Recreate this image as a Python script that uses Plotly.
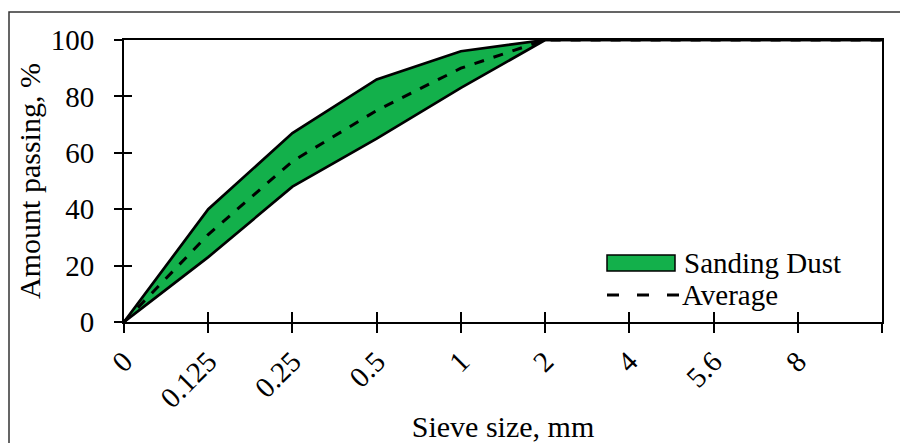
import plotly.graph_objects as go

sieve_labels = ["0", "0.125", "0.25", "0.5", "1", "2", "4", "5.6", "8", ""]
upper_passing = [0, 40, 67, 86, 96, 100, 100, 100, 100, 100]
lower_passing = [0, 23, 48, 65, 83, 100, 100, 100, 100, 100]
average_passing = [0, 31, 57, 75, 90, 100, 100, 100, 100, 100]
band_name = "Sanding Dust"
avg_name = "Average"

x_pos = list(range(len(sieve_labels)))
FONT = "Liberation Serif"
FS = 29
TFS = 30
GREEN = "#13B04B"
OFF = 8  # page body margin in the browser
W, H = 908 - OFF, 443 - OFF
L, R, T, B = 124 - OFF, 26, 40 - OFF, 121
PW, PH = W - L - R, H - T - B


def px(x):
    return (x - OFF - L) / PW


def py(y):
    return (OFF + H - B - y) / PH


fig = go.Figure()
fig.add_trace(go.Scatter(x=x_pos, y=lower_passing, mode="lines",
                         line=dict(color="black", width=2.7),
                         showlegend=False, hoverinfo="skip"))
fig.add_trace(go.Scatter(x=x_pos, y=upper_passing, mode="lines", fill="tonexty",
                         fillcolor=GREEN, line=dict(color="black", width=2.7),
                         name=band_name, showlegend=False))
fig.add_trace(go.Scatter(x=x_pos, y=average_passing, mode="lines",
                         line=dict(color="black", width=3, dash="10px,10px"),
                         name=avg_name, showlegend=False))
# invisible trace on overlay axes (for crossing ticks)
fig.add_trace(go.Scatter(x=[0], y=[0], xaxis="x2", yaxis="y2", mode="markers",
                         marker=dict(opacity=0), showlegend=False, hoverinfo="skip"))

shapes = [
    # outer frame
    dict(type="rect", xref="paper", yref="paper",
         x0=px(9), x1=px(920), y0=py(455), y1=py(12),
         line=dict(color="#333333", width=1.5), layer="below"),
    # legend: band swatch
    dict(type="rect", xref="paper", yref="paper",
         x0=px(607), x1=px(675), y0=py(271), y1=py(255),
         fillcolor=GREEN, line=dict(color="black", width=1.5)),
    # legend: dashed line
    dict(type="line", xref="paper", yref="paper",
         x0=px(607), x1=px(680), y0=py(295), y1=py(295),
         line=dict(color="black", width=3, dash="12px,18px")),
]
annotations = [
    dict(text=band_name, xref="paper", yref="paper", x=px(682), y=py(263),
         xanchor="left", yanchor="middle", showarrow=False,
         font=dict(family=FONT, size=FS, color="black")),
    dict(text=avg_name, xref="paper", yref="paper", x=px(680), y=py(295),
         xanchor="left", yanchor="middle", showarrow=False,
         font=dict(family=FONT, size=FS, color="black")),
]

fig.update_layout(
    width=W, height=H,
    margin=dict(l=L, r=R, t=T, b=B),
    paper_bgcolor="white", plot_bgcolor="white",
    font=dict(family=FONT, size=FS, color="black"),
    xaxis=dict(range=[0, 9], tickvals=x_pos, ticktext=sieve_labels, tickangle=-45,
               ticks="outside", ticklen=9, tickwidth=1.5, tickcolor="black",
               showline=True, linecolor="black", linewidth=2, mirror=True,
               showgrid=False, zeroline=False, automargin=False,
               title=dict(text="Sieve size, mm", standoff=14,
                          font=dict(family=FONT, size=TFS)),
               tickfont=dict(family=FONT, size=FS)),
    yaxis=dict(range=[0, 100], tickvals=[0, 20, 40, 60, 80, 100],
               ticks="outside", ticklen=8, tickwidth=1.5, tickcolor="black",
               showline=True, linecolor="black", linewidth=2, mirror=True,
               showgrid=False, zeroline=False, ticklabelstandoff=14,
               automargin=False,
               title=dict(text="Amount passing, %", standoff=1,
                          font=dict(family=FONT, size=TFS)),
               tickfont=dict(family=FONT, size=FS)),
    xaxis2=dict(overlaying="x", anchor="y", side="bottom", range=[0, 9],
                tickvals=x_pos, showticklabels=False, ticks="inside", ticklen=10,
                tickwidth=1.5, tickcolor="black", showgrid=False, zeroline=False,
                showline=False),
    yaxis2=dict(overlaying="y", anchor="x", side="left", range=[0, 100],
                tickvals=[0, 20, 40, 60, 80, 100], showticklabels=False,
                ticks="inside", ticklen=8, tickwidth=1.5, tickcolor="black",
                showgrid=False, zeroline=False, showline=False),
    shapes=shapes,
    annotations=annotations,
    showlegend=False,
)

fig.write_html("out.html")
